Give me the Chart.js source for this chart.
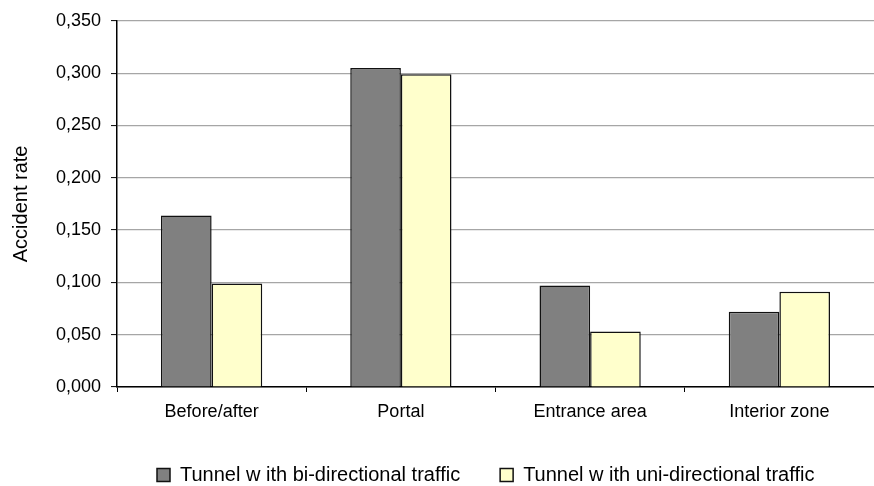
<!DOCTYPE html>
<html>
<head>
<meta charset="utf-8">
<script src="https://cdn.jsdelivr.net/npm/chart.js@4/dist/chart.umd.min.js"></script>
<style>
  html, body { margin: 0; padding: 0; background: #ffffff; }
  #wrap { width: 874px; height: 486px; }
</style>
</head>
<body>
<div id="wrap"><canvas id="chart" width="874" height="486"></canvas></div>
<script>
// Accident rate by tunnel zone, bi- vs uni-directional traffic
const categories = ['Before/after', 'Portal', 'Entrance area', 'Interior zone'];
const biDirectional = [0.164, 0.305, 0.097, 0.072];
const uniDirectional = [0.099, 0.299, 0.053, 0.091];
const seriesNames = ['Tunnel w ith bi-directional traffic', 'Tunnel w ith uni-directional traffic'];
const yMin = 0;
const yMax = 0.35;
const yStep = 0.05;
const yTitle = 'Accident rate';

const FONT = '"Liberation Sans", Arial, sans-serif';

const formatTick = v => v.toFixed(3).replace('.', ',');

new Chart(document.getElementById('chart'), {
  type: 'bar',
  data: {
    labels: categories,
    datasets: [
      {
        label: seriesNames[0],
        data: biDirectional,
        backgroundColor: '#808080',
        borderColor: '#111111',
        borderWidth: 1.5,
        categoryPercentage: 0.535,
        barPercentage: 1.0
      },
      {
        label: seriesNames[1],
        data: uniDirectional,
        backgroundColor: '#ffffcc',
        borderColor: '#111111',
        borderWidth: 1.5,
        categoryPercentage: 0.535,
        barPercentage: 1.0
      }
    ]
  },
  options: {
    responsive: false,
    devicePixelRatio: 1,
    animation: false,
    layout: { padding: { left: 0, right: -6, top: 19, bottom: -9 } },
    plugins: {
      tooltip: { enabled: false },
      legend: {
        position: 'bottom',
        fullSize: false,
        align: 'start',
        labels: {
          boxWidth: 13,
          boxHeight: 13,
          padding: 40,
          color: '#000000',
          font: { family: FONT, size: 20 }
        }
      }
    },
    scales: {
      x: {
        afterFit: s => { s.height = 38; },
        grid: {
          display: true,
          drawOnChartArea: false,
          drawTicks: true,
          tickLength: 5,
          tickColor: '#000000',
          tickWidth: 1
        },
        border: { display: true, color: '#000000', width: 1.5 },
        ticks: {
          color: '#000000',
          padding: 9,
          maxRotation: 0,
          font: { family: FONT, size: 18 }
        }
      },
      y: {
        min: yMin,
        max: yMax,
        afterFit: s => { s.width = 117; },
        title: {
          display: true,
          text: yTitle,
          color: '#000000',
          padding: { top: 9, bottom: 0 },
          font: { family: FONT, size: 20 }
        },
        grid: {
          color: '#a6a6a6',
          lineWidth: 1.2,
          tickLength: 6,
          tickColor: '#000000',
          tickWidth: 1
        },
        border: { display: true, color: '#000000', width: 1.5 },
        ticks: {
          stepSize: yStep,
          color: '#000000',
          padding: 10,
          font: { family: FONT, size: 18 },
          callback: v => formatTick(v)
        }
      }
    }
  }
});
</script>
</body>
</html>
